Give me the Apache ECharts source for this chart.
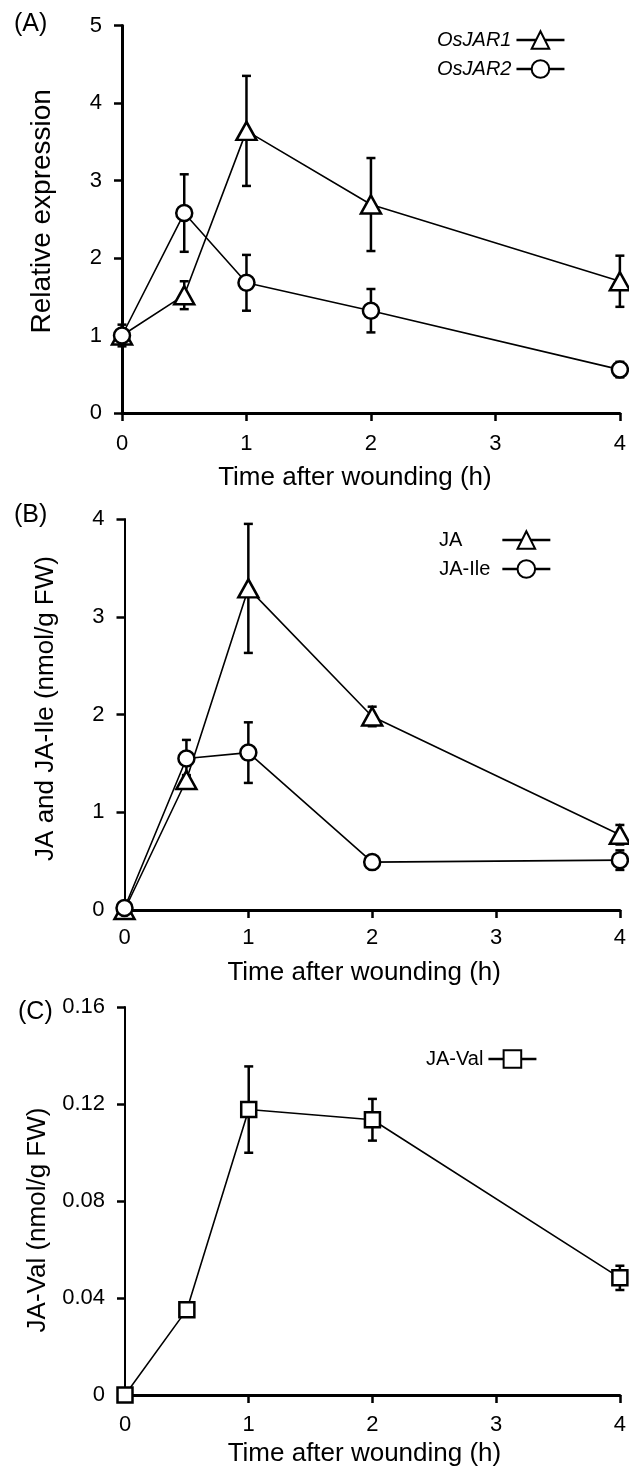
<!DOCTYPE html>
<html>
<head>
<meta charset="utf-8">
<script src="https://cdn.jsdelivr.net/npm/echarts@6/dist/echarts.min.js"></script>
<style>
  html, body { margin: 0; padding: 0; background: #fff; }
  #chart { width: 629px; height: 1479px; }
</style>
</head>
<body>
<div id="chart"></div>
<script>
// sampling times (h)
const times = [0, 0.5, 1, 2, 4];
const xTicks = [0, 1, 2, 3, 4];

// (A) relative expression
const jar1 = [1.0, 1.52, 3.64, 2.69, 1.70];
const jar1Err = [0.14, 0.18, 0.71, 0.60, 0.33];
const jar2 = [1.0, 2.58, 1.68, 1.32, 0.56];
const jar2Err = [0.05, 0.50, 0.36, 0.28, 0.10];

// (B) JA and JA-Ile (nmol/g FW)
const ja = [0, 1.33, 3.29, 1.98, 0.77];
const jaErr = [0, 0.05, 0.66, 0.10, 0.10];
const jaIle = [0.02, 1.55, 1.61, 0.49, 0.51];
const jaIleErr = [0, 0.19, 0.31, 0.02, 0.10];

// (C) JA-Val (nmol/g FW)
const jaVal = [0, 0.0352, 0.1177, 0.1135, 0.0483];
const jaValErr = [0, 0, 0.0178, 0.0086, 0.005];

const FONT = "'Liberation Sans', Arial, sans-serif";
const NARROW = "'Liberation Sans Narrow', 'Liberation Sans', Arial, sans-serif";

function xAxisCfg(idx, labelMargin, nameGap, shiftLeft) {
  return {
    type: 'value', gridIndex: idx, min: 0, max: 4, interval: 1,
    name: 'Time after wounding (h)', nameLocation: 'middle', nameGap: nameGap,
    nameTextStyle: { fontSize: 26, color: '#000', fontFamily: FONT, padding: [0, shiftLeft * 2, 0, 0] },
    axisLine: { lineStyle: { color: '#000', width: 3 } },
    axisTick: { show: true, inside: false, length: 8, lineStyle: { color: '#000', width: 2.5 } },
    axisLabel: { fontSize: 22, color: '#000', margin: labelMargin, fontFamily: FONT,
      formatter: v => xTicks.indexOf(v) >= 0 ? String(v) : '' },
    splitLine: { show: false }
  };
}

// shift > 0 moves the rotated title up, < 0 moves it down
function yAxisCfg(idx, max, interval, name, lineW, nameSize, shift, labelFont) {
  const pad = shift >= 0 ? [0, 0, 0, shift * 2] : [0, -shift * 2, 0, 0];
  return {
    type: 'value', gridIndex: idx, min: 0, max: max, interval: interval,
    name: name, nameLocation: 'middle', nameGap: 66,
    nameTextStyle: { fontSize: nameSize, color: '#000', fontFamily: FONT, padding: pad },
    axisLine: { show: true, lineStyle: { color: '#000', width: lineW } },
    axisTick: { show: true, inside: false, length: 8, lineStyle: { color: '#000', width: 2.5 } },
    axisLabel: { fontSize: 22, color: '#000', margin: 20, fontFamily: labelFont },
    splitLine: { show: false }
  };
}

function lineSeries(idx, name, vals, symbol, size) {
  return {
    type: 'line', name: name, xAxisIndex: idx, yAxisIndex: idx, z: 3,
    data: times.map((t, i) => [t, vals[i]]),
    symbol: symbol, symbolSize: size,
    lineStyle: { color: '#000', width: 1.6 },
    itemStyle: { color: '#fff', borderColor: '#000', borderWidth: 2.5 }
  };
}

function errorBars(idx, vals, errs, lw) {
  return {
    type: 'custom', xAxisIndex: idx, yAxisIndex: idx, z: 1, silent: true,
    data: times.map((t, i) => [t, vals[i] - errs[i], vals[i] + errs[i]]),
    renderItem: function (params, api) {
      if (api.value(1) === api.value(2)) return null;
      const lo = api.coord([api.value(0), api.value(1)]);
      const hi = api.coord([api.value(0), api.value(2)]);
      const cap = 4.5;
      const style = { stroke: '#000', lineWidth: lw };
      return {
        type: 'group',
        children: [
          { type: 'line', shape: { x1: lo[0], y1: lo[1], x2: hi[0], y2: hi[1] }, style: style },
          { type: 'line', shape: { x1: hi[0] - cap, y1: hi[1], x2: hi[0] + cap, y2: hi[1] }, style: style },
          { type: 'line', shape: { x1: lo[0] - cap, y1: lo[1], x2: lo[0] + cap, y2: lo[1] }, style: style }
        ]
      };
    }
  };
}

const legendBase = {
  orient: 'vertical', align: 'right', itemWidth: 48, itemHeight: 22, itemGap: 9,
  lineStyle: { width: 2.5 },
  textStyle: { fontSize: 20, color: '#000', fontFamily: FONT }
};

const panelLabel = { fontSize: 25, fontWeight: 'normal', color: '#000', fontFamily: FONT };

const option = {
  animation: false,
  backgroundColor: '#fff',
  textStyle: { fontFamily: FONT, color: '#000' },
  title: [
    { text: '(A)', left: 9, top: 7, textStyle: panelLabel },
    { text: '(B)', left: 9, top: 498, textStyle: panelLabel },
    { text: '(C)', left: 13, top: 995, textStyle: panelLabel }
  ],
  legend: [
    Object.assign({}, legendBase, {
      left: 432, top: 25, data: ['OsJAR1', 'OsJAR2'],
      textStyle: { fontSize: 20, color: '#000', fontFamily: FONT, fontStyle: 'italic' }
    }),
    Object.assign({}, legendBase, {
      left: 434, top: 525,
      data: [
        { name: 'JA', textStyle: { padding: [0, 35, 0, 0] } },
        { name: 'JA-Ile', textStyle: { padding: [0, 7, 0, 0] } }
      ]
    }),
    Object.assign({}, legendBase, { left: 421, top: 1044, data: ['JA-Val'] })
  ],
  grid: [
    { left: 122, top: 25.5, width: 500, height: 387.5 },
    { left: 124.5, top: 519, width: 500.5, height: 391 },
    { left: 125, top: 1007, width: 500, height: 388 }
  ],
  xAxis: [xAxisCfg(0, 20, 52, 16), xAxisCfg(1, 17, 50, 8), xAxisCfg(2, 19, 46, 8)],
  yAxis: [
    yAxisCfg(0, 5, 1, 'Relative expression', 3, 28, 8, FONT),
    yAxisCfg(1, 4, 1, 'JA and JA-Ile (nmol/g FW)', 2, 26, 6, FONT),
    yAxisCfg(2, 0.16, 0.04, 'JA-Val (nmol/g FW)', 2, 26, -19, NARROW)
  ],
  series: [
    errorBars(0, jar1, jar1Err, 2.5),
    errorBars(0, jar2, jar2Err, 2.5),
    lineSeries(0, 'OsJAR1', jar1, 'triangle', [20, 18]),
    lineSeries(0, 'OsJAR2', jar2, 'circle', 16),
    errorBars(1, ja, jaErr, 2.5),
    errorBars(1, jaIle, jaIleErr, 2.5),
    lineSeries(1, 'JA', ja, 'triangle', [20, 18]),
    lineSeries(1, 'JA-Ile', jaIle, 'circle', 16),
    errorBars(2, jaVal, jaValErr, 2.5),
    lineSeries(2, 'JA-Val', jaVal, 'rect', 15)
  ]
};

const chart = echarts.init(document.getElementById('chart'), null, { renderer: 'canvas' });
chart.setOption(option);
</script>
</body>
</html>
